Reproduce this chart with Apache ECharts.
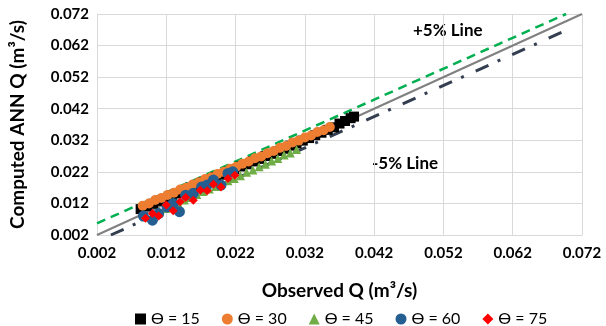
<!DOCTYPE html>
<html>
<head>
<meta charset="utf-8">
<script src="https://cdn.jsdelivr.net/npm/echarts@6/dist/echarts.min.js"></script>
<style>
  html, body { margin: 0; padding: 0; background: #fff; }
  #chart { width: 606px; height: 326px; }
</style>
</head>
<body>
<div id="chart"></div>
<script>
// axis ticks
const tickMin = 0.002;
const tickMax = 0.072;
const tickStep = 0.01;

// legend names
const seriesNames = ['ϴ = 15', 'ϴ = 30', 'ϴ = 45', 'ϴ = 60', 'ϴ = 75'];

// observed vs computed
const theta15 = [
  [0.0083, 0.0102], [0.0092, 0.0111], [0.0101, 0.0119], [0.0110, 0.0128], [0.0119, 0.0135],
  [0.0128, 0.0145], [0.0137, 0.0153], [0.0146, 0.0162], [0.0155, 0.0170], [0.0164, 0.0177],
  [0.0173, 0.0187], [0.0182, 0.0195], [0.0191, 0.0204], [0.0200, 0.0211], [0.0209, 0.0220],
  [0.0218, 0.0228], [0.0227, 0.0237], [0.0236, 0.0244], [0.0245, 0.0253], [0.0254, 0.0261],
  [0.0263, 0.0270], [0.0272, 0.0277], [0.0281, 0.0286], [0.0290, 0.0293], [0.0299, 0.0303],
  [0.0308, 0.0310], [0.0317, 0.0319], [0.0326, 0.0327], [0.0335, 0.0336], [0.0344, 0.0344],
  [0.0353, 0.0353], [0.0362, 0.0361], [0.0370, 0.0373], [0.0378, 0.0381], [0.0386, 0.0390],
  [0.0391, 0.0395]
];
const theta30 = [
  [0.0086, 0.0113], [0.0095, 0.0120], [0.0104, 0.0131], [0.0113, 0.0137], [0.0122, 0.0147],
  [0.0131, 0.0154], [0.0140, 0.0164], [0.0149, 0.0170], [0.0158, 0.0180], [0.0167, 0.0187],
  [0.0176, 0.0197], [0.0185, 0.0203], [0.0194, 0.0213], [0.0203, 0.0220], [0.0212, 0.0230],
  [0.0221, 0.0236], [0.0230, 0.0246], [0.0239, 0.0253], [0.0248, 0.0263], [0.0257, 0.0269],
  [0.0266, 0.0279], [0.0275, 0.0286], [0.0284, 0.0296], [0.0293, 0.0302], [0.0302, 0.0313],
  [0.0311, 0.0319], [0.0320, 0.0329], [0.0329, 0.0335], [0.0338, 0.0346], [0.0347, 0.0352],
  [0.0356, 0.0362]
];
const theta45 = [
  [0.0090, 0.0078], [0.0100, 0.0085], [0.0110, 0.0094], [0.0119, 0.0104], [0.0128, 0.0112],
  [0.0137, 0.0121], [0.0146, 0.0131], [0.0155, 0.0139], [0.0164, 0.0148], [0.0173, 0.0158],
  [0.0182, 0.0166], [0.0191, 0.0174], [0.0200, 0.0184], [0.0209, 0.0192], [0.0218, 0.0199],
  [0.0227, 0.0208], [0.0236, 0.0219], [0.0245, 0.0226], [0.0254, 0.0236], [0.0263, 0.0244],
  [0.0272, 0.0254], [0.0281, 0.0262], [0.0290, 0.0273], [0.0299, 0.0280], [0.0308, 0.0291]
];
const theta60 = [
  [0.0087, 0.0080], [0.0100, 0.0067], [0.0109, 0.0088], [0.0121, 0.0109], [0.0130, 0.0120],
  [0.0139, 0.0094], [0.0148, 0.0146], [0.0159, 0.0152], [0.0171, 0.0172], [0.0179, 0.0178],
  [0.0188, 0.0194], [0.0199, 0.0178], [0.0209, 0.0215], [0.0216, 0.0220]
];
const theta75 = [
  [0.0090, 0.0073], [0.0100, 0.0088], [0.0109, 0.0080], [0.0120, 0.0115], [0.0130, 0.0097],
  [0.0140, 0.0125], [0.0148, 0.0139], [0.0159, 0.0130], [0.0169, 0.0162], [0.0179, 0.0160],
  [0.0188, 0.0181], [0.0199, 0.0172], [0.0209, 0.0199], [0.0219, 0.0209]
];

// reference lines
const lineEqual = [[0.002, 0.002], [0.072, 0.072]];
const linePlus5 = [[0.002, 0.0057], [0.0697, 0.072]];
const lineMinus5 = [[0.0040, 0.002], [0.0702, 0.0673]];

const FONT = 'Lato, "Open Sans", sans-serif';
const gridColor = '#d9d9d9';

const axisCommon = {
  type: 'value',
  min: tickMin,
  max: tickMax,
  interval: tickStep,
  nameLocation: 'middle',
  nameTextStyle: { fontFamily: FONT, fontWeight: 'bold', fontSize: 19, color: '#000' },
  axisLine: { show: true, lineStyle: { color: gridColor, width: 1 } },
  axisTick: { show: false },
  splitLine: { show: true, lineStyle: { color: gridColor, width: 1 } },
  axisLabel: {
    fontFamily: FONT, fontWeight: 'bold', fontSize: 15, color: '#000',
    formatter: v => v.toFixed(3)
  }
};

const scatter = (name, data, symbol, size, color) => ({
  name, type: 'scatter', data, symbol, symbolSize: size, z: 3,
  itemStyle: { color, opacity: 1 }
});

const refLine = (data, color, width, type) => ({
  type: 'line', data, symbol: 'none', z: 2, silent: true,
  lineStyle: { color, width, type }
});

const chart = echarts.init(document.getElementById('chart'), null, { renderer: 'canvas' });
chart.setOption({
  backgroundColor: '#fff',
  animation: false,
  textStyle: { fontFamily: FONT },
  grid: { left: 93, right: 24, top: 14, bottom: 91, containLabel: false },
  xAxis: Object.assign({}, axisCommon, {
    name: 'Observed Q (m³/s)',
    nameGap: 46,
    axisLabel: Object.assign({}, axisCommon.axisLabel, { margin: 11 })
  }),
  yAxis: Object.assign({}, axisCommon, {
    name: 'Computed ANN Q (m³/s)',
    nameGap: 70,
    axisLabel: Object.assign({}, axisCommon.axisLabel, { margin: 8 })
  }),
  legend: {
    data: seriesNames.map((n, i) => ({
      name: n,
      icon: ['rect', 'circle', 'triangle', 'circle', 'diamond'][i]
    })),
    top: 306,
    left: 130,
    itemWidth: 11,
    itemHeight: 11,
    itemGap: 22,
    textStyle: { fontFamily: FONT, fontSize: 16, color: '#000' }
  },
  graphic: [
    { type: 'text', left: 413, top: 22, style: { text: '+5% Line', font: 'bold 17px ' + FONT, fill: '#000' } },
    { type: 'text', left: 372, top: 155, style: { text: '-5% Line', font: 'bold 17px ' + FONT, fill: '#000' } }
  ],
  series: [
    refLine(lineEqual, '#808080', 2, 'solid'),
    refLine(linePlus5, '#00b050', 2.5, [9, 6]),
    refLine(lineMinus5, '#333f50', 3, [14, 10, 3, 13]),
    scatter(seriesNames[0], theta15, 'rect', 10, '#000000'),
    scatter(seriesNames[1], theta30, 'circle', 10, '#ed7d31'),
    scatter(seriesNames[2], theta45, 'triangle', 9, '#70ad47'),
    scatter(seriesNames[3], theta60, 'circle', 11, '#255e91'),
    scatter(seriesNames[4], theta75, 'diamond', 9, '#ff0000')
  ]
});
</script>
</body>
</html>
